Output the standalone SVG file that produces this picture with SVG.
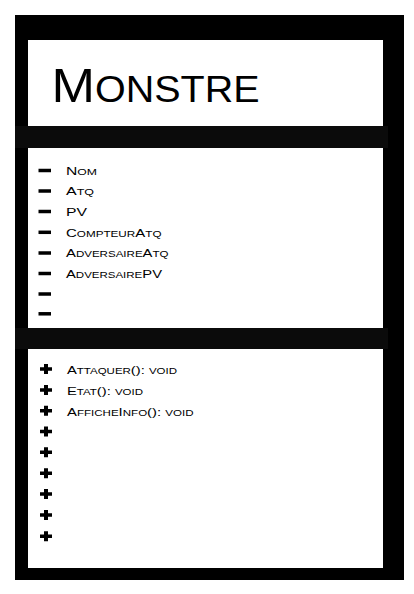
<svg xmlns="http://www.w3.org/2000/svg" xmlns:xlink="http://www.w3.org/1999/xlink" width="414" height="594" viewBox="0 0 414 594">
  <style>
    .panel { fill: #ffffff; }
    .bar { fill: #0b0b0b; }
    .title { font-family: "Liberation Sans", Arial, sans-serif; fill: #000; }
    .item { font-family: "Liberation Sans", Arial, sans-serif; font-size: 11.4px; fill: #000; }
    .sc { font-size: 8.9px; }
    .mark { fill: #000; }
  </style>
  <defs>
    <path id="dash" d="M0 -1.75h12.5v3.5h-12.5z"/>
    <path id="plus" d="M-6 -1.75h12v3.5h-12z M-2 -5h4v10h-4z"/>
  </defs>
  <rect width="414" height="594" fill="#ffffff"/>

  <g id="class-monstre">
    <rect x="15" y="15" width="389" height="565" fill="#000"/>

    <g id="title-section">
      <rect class="panel" x="28" y="40" width="355" height="86"/>
      <text class="title" x="51.5" y="101.7" textLength="208" lengthAdjust="spacingAndGlyphs"><tspan font-size="48">M</tspan><tspan font-size="36.3">ONSTRE</tspan></text>
    </g>

    <rect class="bar" x="15" y="126" width="373" height="22"/>

    <g id="attributes-section">
      <rect class="panel" x="28" y="148" width="355" height="180"/>
      <g class="mark">
        <use xlink:href="#dash" x="38.5" y="170.5"/>
        <use xlink:href="#dash" x="38.5" y="191"/>
        <use xlink:href="#dash" x="38.5" y="211.5"/>
        <use xlink:href="#dash" x="38.5" y="232.3"/>
        <use xlink:href="#dash" x="38.5" y="253"/>
        <use xlink:href="#dash" x="38.5" y="273.5"/>
        <use xlink:href="#dash" x="38.5" y="294"/>
        <use xlink:href="#dash" x="38.5" y="313.8"/>
      </g>
      <text class="item" x="66" y="174.5" textLength="31" lengthAdjust="spacingAndGlyphs">N<tspan class="sc">OM</tspan></text>
      <text class="item" x="66" y="195.1" textLength="28" lengthAdjust="spacingAndGlyphs">A<tspan class="sc">TQ</tspan></text>
      <text class="item" x="66" y="215.7" textLength="21" lengthAdjust="spacingAndGlyphs">PV</text>
      <text class="item" x="66" y="236.6" textLength="95.5" lengthAdjust="spacingAndGlyphs">C<tspan class="sc">OMPTEUR</tspan>A<tspan class="sc">TQ</tspan></text>
      <text class="item" x="66" y="257.1" textLength="102.5" lengthAdjust="spacingAndGlyphs">A<tspan class="sc">DVERSAIRE</tspan>A<tspan class="sc">TQ</tspan></text>
      <text class="item" x="66" y="277.6" textLength="96" lengthAdjust="spacingAndGlyphs">A<tspan class="sc">DVERSAIRE</tspan>PV</text>
    </g>

    <rect class="bar" x="15" y="328" width="373" height="21"/>

    <g id="methods-section">
      <rect class="panel" x="28" y="349" width="355" height="219"/>
      <g class="mark">
        <use xlink:href="#plus" x="46" y="369"/>
        <use xlink:href="#plus" x="46" y="390"/>
        <use xlink:href="#plus" x="46" y="410.8"/>
        <use xlink:href="#plus" x="46" y="431.5"/>
        <use xlink:href="#plus" x="46" y="452.3"/>
        <use xlink:href="#plus" x="46" y="473.2"/>
        <use xlink:href="#plus" x="46" y="494.1"/>
        <use xlink:href="#plus" x="46" y="515"/>
        <use xlink:href="#plus" x="46" y="536.3"/>
      </g>
      <text class="item" x="67" y="373.7" textLength="110" lengthAdjust="spacingAndGlyphs">A<tspan class="sc">TTAQUER</tspan>(): <tspan class="sc">VOID</tspan></text>
      <text class="item" x="67" y="394.6" textLength="76" lengthAdjust="spacingAndGlyphs">E<tspan class="sc">TAT</tspan>(): <tspan class="sc">VOID</tspan></text>
      <text class="item" x="67" y="415.5" textLength="126.5" lengthAdjust="spacingAndGlyphs">A<tspan class="sc">FFICHE</tspan>I<tspan class="sc">NFO</tspan>(): <tspan class="sc">VOID</tspan></text>
    </g>
  </g>
</svg>
